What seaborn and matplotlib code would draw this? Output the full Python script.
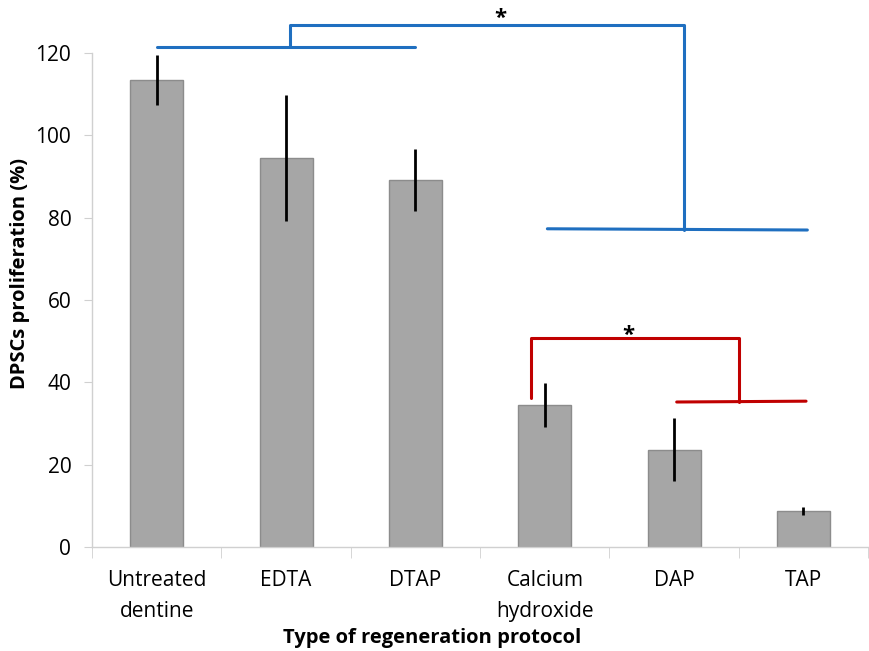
import numpy as np
import pandas as pd
import matplotlib
matplotlib.use("Agg")
import matplotlib.pyplot as plt
import seaborn as sns

# -------------------- DATA --------------------
categories = ["Untreated\ndentine", "EDTA", "DTAP", "Calcium\nhydroxide", "DAP", "TAP"]
means = [113.5, 94.5, 89.2, 34.4, 23.6, 8.7]
errors = [6.0, 15.3, 7.5, 5.3, 7.7, 1.0]

df = pd.DataFrame({"protocol": categories, "proliferation": means})

# -------------------- STYLE --------------------
sns.set_style("white")
plt.rcParams["font.family"] = ["Open Sans", "DejaVu Sans"]
plt.rcParams["text.color"] = "black"
plt.rcParams["axes.labelcolor"] = "black"
plt.rcParams["xtick.labelcolor"] = "black"
plt.rcParams["ytick.labelcolor"] = "black"

fig = plt.figure(figsize=(8.69, 6.51), dpi=100)
ax = fig.add_axes([0.106, 0.160, 0.893, 0.840])

sns.barplot(data=df, x="protocol", y="proliferation", color="#a6a6a6",
            saturation=1, width=0.41, edgecolor="#8c8c8c", linewidth=1, ax=ax)
ax.errorbar(np.arange(len(means)), means, yerr=errors, fmt="none",
            ecolor="black", elinewidth=2, capsize=0, zorder=5)

ax.set_xlim(-0.5, 5.5)
ax.set_ylim(0, 132.9)
ax.set_yticks(np.arange(0, 121, 20))
ax.spines["left"].set_bounds(0, 120)
for s in ["top", "right"]:
    ax.spines[s].set_visible(False)
for s in ["left", "bottom"]:
    ax.spines[s].set_color("#d0d0d0")
    ax.spines[s].set_linewidth(1)

ax.tick_params(axis="y", labelsize=15, length=6, color="#d0d0d0", labelcolor="black",
               direction="out", left=True, pad=9)
ax.tick_params(axis="x", which="major", labelsize=15, length=0, pad=17, labelcolor="black")
ax.set_xticks(np.arange(-0.5, 5.6, 1), minor=True)
ax.tick_params(axis="x", which="minor", length=8, color="#d0d0d0", direction="out", bottom=True)
for lbl in ax.get_xticklabels():
    lbl.set_linespacing(1.6)

ax.set_xlabel("Type of regeneration protocol", fontsize=14.5, fontweight="bold", color="black")
ax.xaxis.set_label_coords(0.438, -0.148)
ax.set_ylabel("DPSCs proliferation (%)", fontsize=14.5, fontweight="bold", labelpad=4, color="black")

# -------------------- SIGNIFICANCE BRACKETS --------------------
blue = "#1f6fc0"
red = "#c00000"
lw = 2.2
ax.plot([0, 2], [121.4, 121.4], color=blue, lw=lw, clip_on=False)
ax.plot([1.03, 1.03, 4.08, 4.08], [121.4, 126.8, 126.8, 77.0], color=blue, lw=lw, clip_on=False)
ax.plot([3.02, 5.03], [77.3, 77.0], color=blue, lw=lw, clip_on=False)
ax.text(2.66, 125.8, "*", fontsize=16, fontweight="bold", ha="center", va="bottom", color="black")

ax.plot([2.89, 2.89, 4.5, 4.5], [36.2, 50.8, 50.8, 35.3], color=red, lw=lw, clip_on=False)
ax.plot([4.02, 5.02], [35.2, 35.4], color=red, lw=lw, clip_on=False)
ax.text(3.65, 48.8, "*", fontsize=16, fontweight="bold", ha="center", va="bottom", color="black")

plt.savefig("out.png", dpi=100)
plt.close()
